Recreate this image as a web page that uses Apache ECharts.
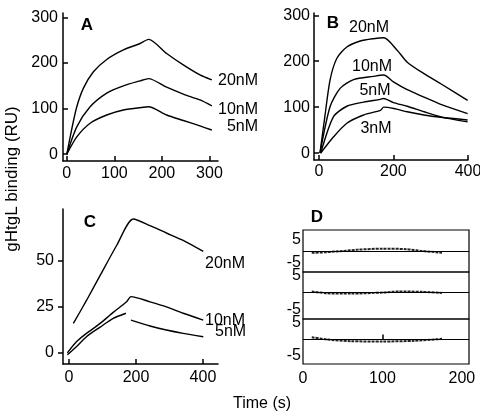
<!DOCTYPE html>
<html><head><meta charset="utf-8">
<script src="https://cdn.jsdelivr.net/npm/echarts@6/dist/echarts.min.js"></script>
<style>html,body{margin:0;padding:0;background:#fff}#c{width:480px;height:413px}</style>
</head><body><div id="c"></div>
<script>
// ---- Data (time in s, response in RU) ----
const A_t20 = [0,10,21,35,56,84,119,154,172,210,245,280,305];
const A_v20 = [0,53,104,145,181,208,229,243,252,221,196,174,163];
const A_t10 = [0,21,49,84,119,154,172,210,245,280,305];
const A_v10 = [0,60,104,134,150,161,166,147,132,119,106];
const A_t5  = [0,21,49,84,119,161,172,210,245,280,305];
const A_v5  = [0,38,68,86,97,103,104,86,74,62,53];

const B_t20 = [3,16,30,48,75,111,146,174,210,237,282,327,399];
const B_v20 = [0,79,159,206,231,244,249,251,224,198,173,151,115];
const B_t10 = [3,30,57,93,146,174,200,237,282,327,399];
const B_v10 = [0,101,141,160,167,170,155,138,122,106,86];
const B_t5  = [5,39,75,120,165,174,200,237,282,327,399];
const B_v5  = [0,79,102,111,117,119,110,102,90,79,68];
const B_t3  = [5,39,75,120,165,174,201,237,282,327,399];
const B_v3  = [0,35,65,83,93,100,97,90,83,78,72];

const C_t20 = [13,53,93,143,192,242,291,341,401];
const C_v20 = [16,28.7,42,58.5,72.6,69,65,61,55];
const C_t10 = [-5,22,52,93,132,172,185,242,291,341,401];
const C_v10 = [0,6,10.6,16,22,27.7,30.5,27.7,25,21.5,17.8];
const C_t5  = [-5,22,52,93,132,170,177,185,242,291,341,401];
const C_v5  = [-1,3.4,8.8,14,18.7,21.5,'-',17.8,14.6,12.4,10.6,8.8];

const D_t1 = [11,30,50,70,100,130,150,170,175];
const D_v1 = [-0.8,-0.5,0,0.6,1.0,0.8,0,-0.6,-0.7];
const D_t2 = [11,30,60,100,120,150,175];
const D_v2 = [0.3,-0.2,-0.3,0,0.3,0.2,-0.1];
const D_t3 = [11,30,60,100,140,175];
const D_v3 = [0.7,0,-0.5,-0.6,-0.4,0.2];

const ticksA_x = [0,100,200,300], ticksA_y = [0,100,200,300];
const ticksB_x = [0,200,400],     ticksB_y = [0,100,200,300];
const ticksC_x = [0,200,400],     ticksC_y = [0,25,50];
const ticksD_x = [0,100,200],     ticksD_y = [5,-5];

const labelsA = ['20nM','10nM','5nM'];
const labelsB = ['20nM','10nM','5nM','3nM'];
const labelsC = ['20nM','10nM','5nM'];

// ---- helpers ----
const FONT = '"Liberation Sans", Arial, Helvetica, sans-serif';
const pairs = (t, v) => t.map((x, i) => [x, v[i]]);
const line = (t, v, xi, w) => ({
  type: 'line', xAxisIndex: xi, yAxisIndex: xi, data: pairs(t, v),
  showSymbol: false, symbol: 'none', smooth: 0.25, connectNulls: false,
  lineStyle: { color: '#000', width: w || 1.4 }, silent: true, animation: false
});
const axLine = { show: true, onZero: false, lineStyle: { color: '#000', width: 1.5 } };
function xAx(gi, min, max, ticks, margin) {
  return { type: 'value', gridIndex: gi, min, max, splitLine: { show: false },
    axisLine: axLine,
    axisTick: { show: true, inside: true, length: 5, customValues: ticks, lineStyle: { color: '#000', width: 1.5 } },
    axisLabel: { customValues: ticks, margin: margin, color: '#000', fontSize: 16, fontFamily: FONT } };
}
function yAx(gi, min, max, ticks, margin, inside) {
  return { type: 'value', gridIndex: gi, min, max, splitLine: { show: false },
    axisLine: axLine,
    axisTick: { show: true, inside: inside, length: 5, customValues: ticks, lineStyle: { color: '#000', width: 1.5 } },
    axisLabel: { customValues: ticks, margin: margin, color: '#000', fontSize: 16, fontFamily: FONT } };
}
function dY(gi, min, max) {
  return { type: 'value', gridIndex: gi, min, max, splitLine: { show: false },
    axisLine: { show: false }, axisTick: { show: false }, axisLabel: { show: false } };
}
function dX(gi, showAxis) {
  return { type: 'value', gridIndex: gi, min: 0, max: 209, show: showAxis, splitLine: { show: false },
    axisLine: { show: false },
    axisTick: { show: true, inside: true, length: 5, customValues: [100], lineStyle: { color: '#000', width: 1.5 } },
    axisLabel: { customValues: ticksD_x, margin: 7, color: '#000', fontSize: 16, fontFamily: FONT } };
}
const gridBase = { outerBoundsMode: 'none', containLabel: false };
const dGrid = (top, height) => Object.assign({ left: 303, width: 166, top, height, show: true,
  borderColor: '#000', borderWidth: 1.2, backgroundColor: 'transparent' }, gridBase);
const resid = (t, v, xi) => {
  const s = line(t, v, xi, 2);
  s.lineStyle.color = '#222';
  s.lineStyle.type = [3, 1];
  s.markLine = { silent: true, symbol: 'none', animation: false, label: { show: false },
    lineStyle: { color: '#000', width: 1, type: 'solid' }, data: [{ yAxis: 0 }] };
  return s;
};
const txt = (text, x, y, opt) => Object.assign({ type: 'text', x, y, silent: true,
  style: Object.assign({ text, font: '16px ' + FONT, fill: '#000', align: 'left', verticalAlign: 'middle' }, (opt || {}).style || {}) },
  (opt || {}).el || {});
const bold = { style: { font: 'bold 17px ' + FONT, align: 'center' } };

const graphics = [
  txt('A', 87, 25, bold), txt('B', 333, 23, bold), txt('C', 90, 222, bold), txt('D', 317, 217, bold),
  txt(labelsA[0], 258, 81, { style: { align: 'right' } }),
  txt(labelsA[1], 258, 110, { style: { align: 'right' } }),
  txt(labelsA[2], 258, 127, { style: { align: 'right' } }),
  txt(labelsB[0], 369, 28, { style: { align: 'center' } }),
  txt(labelsB[1], 372, 67, { style: { align: 'center' } }),
  txt(labelsB[2], 375, 91, { style: { align: 'center' } }),
  txt(labelsB[3], 376, 129, { style: { align: 'center' } }),
  txt(labelsC[0], 205, 264),
  txt(labelsC[1], 205, 321),
  txt(labelsC[2], 215, 332),
  txt('gHtgL binding (RU)', 12, 179, { el: { rotation: Math.PI / 2 }, style: { align: 'center', font: '17px ' + FONT } }),
  txt('Time (s)', 262, 404, { style: { align: 'center' } })
];

const option = {
  animation: false,
  backgroundColor: '#fff',
  grid: [
    Object.assign({ left: 63, top: 13, width: 155, height: 148 }, gridBase),
    Object.assign({ left: 314, top: 13, width: 154, height: 147 }, gridBase),
    Object.assign({ left: 63, top: 209, width: 155, height: 155 }, gridBase),
    dGrid(230, 42), dGrid(272, 47), dGrid(319, 45)
  ],
  xAxis: [
    xAx(0, -8, 318, ticksA_x, 5),
    xAx(1, -13, 400, ticksB_x, 4),
    xAx(2, -18, 445, ticksC_x, 6),
    dX(3, false), dX(4, false), dX(5, true)
  ],
  yAxis: [
    yAx(0, -15, 310, ticksA_y, 5, true),
    yAx(1, -15, 305, ticksB_y, 4, true),
    yAx(2, -6, 78, ticksC_y, 9, false),
    dY(3, -9, 9), dY(4, -7.6, 5.9), dY(5, -7.4, 6.2)
  ],
  series: [
    line(A_t20, A_v20, 0), line(A_t10, A_v10, 0), line(A_t5, A_v5, 0),
    line(B_t20, B_v20, 1), line(B_t10, B_v10, 1), line(B_t5, B_v5, 1), line(B_t3, B_v3, 1),
    line(C_t20, C_v20, 2), line(C_t10, C_v10, 2), line(C_t5, C_v5, 2),
    resid(D_t1, D_v1, 3), resid(D_t2, D_v2, 4), resid(D_t3, D_v3, 5)
  ],
  graphic: graphics
};
const chart = echarts.init(document.getElementById('c'), null, { renderer: 'canvas' });
chart.setOption(option);

// D panel tick labels: placed through the library's own y scales
[3, 4, 5].forEach(function (ai) {
  ticksD_y.forEach(function (v) {
    const py = chart.convertToPixel({ yAxisIndex: ai }, v);
    graphics.push(txt(String(v), 301, py, { style: { align: 'right' } }));
  });
});
chart.setOption({ graphic: graphics });
</script></body></html>
